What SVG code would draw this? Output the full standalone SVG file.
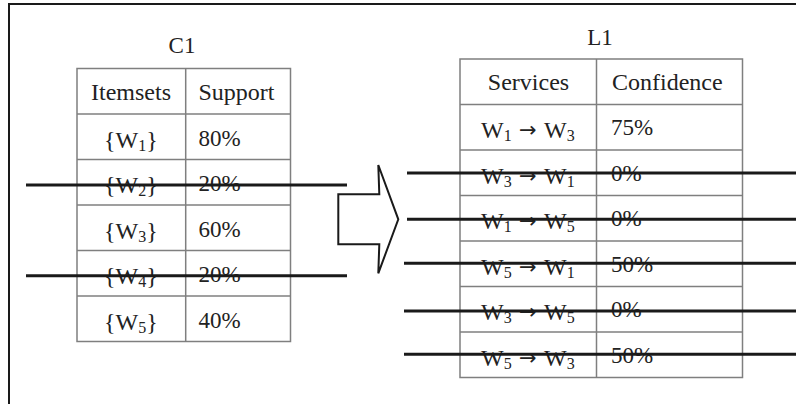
<svg xmlns="http://www.w3.org/2000/svg" width="796" height="404" viewBox="0 0 796 404">
<style>
  .frame{stroke:#1a1a1a;stroke-width:2;fill:none}
  .grid{stroke:#7f7f7f;stroke-width:1.5;fill:none}
  .t{font-family:"Liberation Serif","Times New Roman",serif;font-size:23px;fill:#222}
  .h{font-size:24px}
  .w{font-family:"Liberation Serif","Times New Roman",serif;font-size:24px;fill:#222}
  .sub{font-size:16px}
  .arr{font-family:"DejaVu Sans",sans-serif;font-size:21px}
  .strike{stroke:#1a1a1a;stroke-width:3}
  .blk{stroke:#1a1a1a;stroke-width:2;fill:#fff;stroke-linejoin:miter}
  .mid{text-anchor:middle}
</style>
<rect width="796" height="404" fill="#fff"/>
<g id="frame">
  <line class="frame" x1="8" y1="4" x2="796" y2="4"/>
  <line class="frame" x1="9" y1="3" x2="9" y2="404"/>
</g>

<g id="C1">
  <text class="t mid" x="182" y="53">C1</text>
  <rect class="grid" x="77" y="68.5" width="213.5" height="273"/>
  <line class="grid" x1="185.7" y1="68.5" x2="185.7" y2="341.5"/>
  <line class="grid" x1="77" y1="114" x2="290.5" y2="114"/>
  <line class="grid" x1="77" y1="159.5" x2="290.5" y2="159.5"/>
  <line class="grid" x1="77" y1="205" x2="290.5" y2="205"/>
  <line class="grid" x1="77" y1="250.5" x2="290.5" y2="250.5"/>
  <line class="grid" x1="77" y1="296" x2="290.5" y2="296"/>
  <text class="t h mid" x="131" y="99.5">Itemsets</text>
  <text class="t h" x="198.5" y="99.5">Support</text>
  <text class="w" x="104" y="147.5">{W<tspan class="sub" dy="3">1</tspan><tspan dy="-3">}</tspan></text>
  <text class="t" x="198.5" y="145.5">80%</text>
  <text class="w" x="104" y="193">{W<tspan class="sub" dy="3">2</tspan><tspan dy="-3">}</tspan></text>
  <text class="t" x="198.5" y="191">20%</text>
  <text class="w" x="104" y="238.5">{W<tspan class="sub" dy="3">3</tspan><tspan dy="-3">}</tspan></text>
  <text class="t" x="198.5" y="236.5">60%</text>
  <text class="w" x="104" y="284">{W<tspan class="sub" dy="3">4</tspan><tspan dy="-3">}</tspan></text>
  <text class="t" x="198.5" y="282">20%</text>
  <text class="w" x="104" y="329.5">{W<tspan class="sub" dy="3">5</tspan><tspan dy="-3">}</tspan></text>
  <text class="t" x="198.5" y="327.5">40%</text>
</g>

<g id="arrow">
  <polygon class="blk" points="338.3,194.3 379.3,194.3 378.3,165 398.3,219.3 378.3,273.3 379.3,244.3 338.3,244.3"/>
</g>

<g id="L1">
  <text class="t mid" x="600" y="45">L1</text>
  <rect class="grid" x="460" y="59" width="282.5" height="318.5"/>
  <line class="grid" x1="596.5" y1="59" x2="596.5" y2="377.5"/>
  <line class="grid" x1="460" y1="104.5" x2="742.5" y2="104.5"/>
  <line class="grid" x1="460" y1="150" x2="742.5" y2="150"/>
  <line class="grid" x1="460" y1="195.5" x2="742.5" y2="195.5"/>
  <line class="grid" x1="460" y1="241" x2="742.5" y2="241"/>
  <line class="grid" x1="460" y1="286.5" x2="742.5" y2="286.5"/>
  <line class="grid" x1="460" y1="332" x2="742.5" y2="332"/>
  <text class="t h mid" x="528.5" y="90">Services</text>
  <text class="t h" x="612" y="90">Confidence</text>
  <text class="w" x="481" y="138">W<tspan class="sub" dy="3">1</tspan><tspan class="arr" x="519" dy="-4">→</tspan><tspan x="544" dy="1">W</tspan><tspan class="sub" dy="3">3</tspan></text>
  <text class="t" x="611" y="135">75%</text>
  <text class="w" x="481" y="183.5">W<tspan class="sub" dy="3">3</tspan><tspan class="arr" x="519" dy="-4">→</tspan><tspan x="544" dy="1">W</tspan><tspan class="sub" dy="3">1</tspan></text>
  <text class="t" x="611" y="180.5">0%</text>
  <text class="w" x="481" y="229">W<tspan class="sub" dy="3">1</tspan><tspan class="arr" x="519" dy="-4">→</tspan><tspan x="544" dy="1">W</tspan><tspan class="sub" dy="3">5</tspan></text>
  <text class="t" x="611" y="226">0%</text>
  <text class="w" x="481" y="274.5">W<tspan class="sub" dy="3">5</tspan><tspan class="arr" x="519" dy="-4">→</tspan><tspan x="544" dy="1">W</tspan><tspan class="sub" dy="3">1</tspan></text>
  <text class="t" x="611" y="271.5">50%</text>
  <text class="w" x="481" y="320">W<tspan class="sub" dy="3">3</tspan><tspan class="arr" x="519" dy="-4">→</tspan><tspan x="544" dy="1">W</tspan><tspan class="sub" dy="3">5</tspan></text>
  <text class="t" x="611" y="317">0%</text>
  <text class="w" x="481" y="365.5">W<tspan class="sub" dy="3">5</tspan><tspan class="arr" x="519" dy="-4">→</tspan><tspan x="544" dy="1">W</tspan><tspan class="sub" dy="3">3</tspan></text>
  <text class="t" x="611" y="362.5">50%</text>
</g>

<g id="strikes">
  <line class="strike" x1="26" y1="185" x2="347" y2="185"/>
  <line class="strike" x1="26" y1="275.7" x2="347" y2="275.7"/>
  <line class="strike" x1="407" y1="173" x2="796" y2="173"/>
  <line class="strike" x1="407" y1="219.3" x2="796" y2="219.3"/>
  <line class="strike" x1="404" y1="263.3" x2="796" y2="263.3"/>
  <line class="strike" x1="404" y1="311" x2="796" y2="311"/>
  <line class="strike" x1="404" y1="354.3" x2="796" y2="354.3"/>
</g>
</svg>
